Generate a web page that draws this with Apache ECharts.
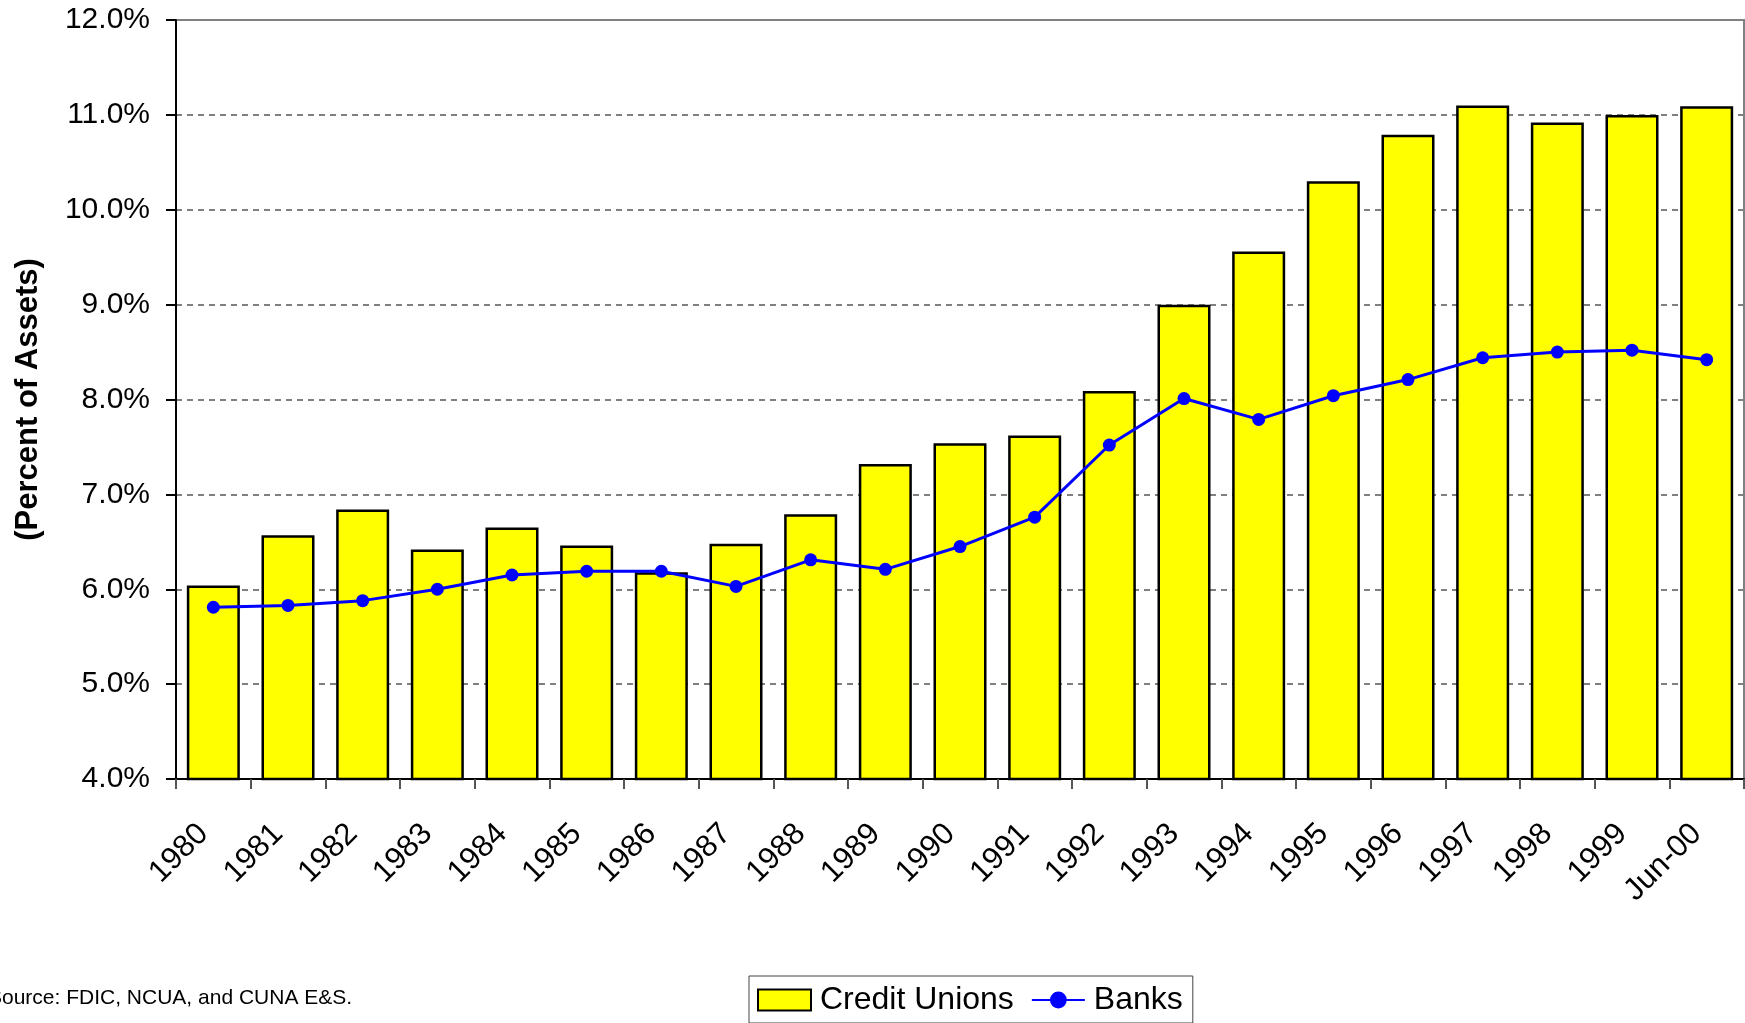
<!DOCTYPE html>
<html>
<head>
<meta charset="utf-8">
<script src="https://cdn.jsdelivr.net/npm/echarts@6/dist/echarts.min.js"></script>
<style>
  html, body { margin: 0; padding: 0; background: #fff; }
  #chart { width: 1745px; height: 1023px; }
</style>
</head>
<body>
<div id="chart"></div>
<script>
const categories = ['1980','1981','1982','1983','1984','1985','1986','1987','1988','1989','1990',
  '1991','1992','1993','1994','1995','1996','1997','1998','1999','Jun-00']
const creditUnions = [6.04, 6.57, 6.84, 6.42, 6.65, 6.46, 6.18, 6.48, 6.79, 7.32, 7.54,
  7.62, 8.09, 9.00, 9.56, 10.30, 10.79, 11.10, 10.92, 11.00, 11.09]
const banks = [5.81, 5.83, 5.88, 6.00, 6.15, 6.19, 6.19, 6.03, 6.31, 6.21, 6.45,
  6.76, 7.52, 8.01, 7.79, 8.04, 8.21, 8.44, 8.50, 8.52, 8.42]
const yTicks = [4, 5, 6, 7, 8, 9, 10, 11, 12]

const font = 'Arial, "Liberation Sans", sans-serif'
const chart = echarts.init(document.getElementById('chart'), null, { renderer: 'canvas' })

chart.setOption({
  backgroundColor: '#fff',
  animation: false,
  textStyle: { fontFamily: font },
  grid: {
    left: 176, right: 1, top: 20, bottom: 244,
    show: true, borderColor: '#808080', borderWidth: 2, backgroundColor: 'transparent',
  },
  legend: {
    left: 749, top: 976,
    padding: [8, 10, 7, 8],
    itemGap: 17,
    itemWidth: 53, itemHeight: 21,
    borderColor: '#444', borderWidth: 1,
    textStyle: { fontSize: 32, color: '#000', fontFamily: font, padding: [2, 0, 0, 4] },
    data: [{ name: 'Credit Unions', icon: 'rect' }, 'Banks'],
  },
  graphic: [{
    type: 'text', left: -12, top: 988,
    style: { text: 'Source: FDIC, NCUA, and CUNA E&S.', fill: '#000', fontSize: 21,
      fontFamily: '"Liberation Sans Narrow", Arial, sans-serif' },
  }],
  xAxis: {
    type: 'category', data: categories,
    axisLine: { lineStyle: { color: '#000', width: 2 } },
    axisTick: { show: true, length: 10, lineStyle: { color: '#555', width: 2 } },
    axisLabel: { rotate: 45, fontSize: 31, color: '#000', margin: 40, padding: [0, 14, 0, 0] },
    splitLine: { show: false },
  },
  yAxis: {
    type: 'value', min: yTicks[0], max: yTicks[yTicks.length - 1], interval: 1,
    name: '(Percent of Assets)', nameLocation: 'middle', nameRotate: 90, nameGap: 132,
    nameTextStyle: { fontSize: 31, fontWeight: 'bold', color: '#000' },
    axisLine: { show: true, lineStyle: { color: '#000', width: 2 } },
    axisTick: { show: true, length: 10, lineStyle: { color: '#000', width: 2 } },
    axisLabel: { fontSize: 30, color: '#000', margin: 26, formatter: (v) => v.toFixed(1) + '%' },
    splitLine: { lineStyle: { color: '#808080', type: [6, 5], width: 2 } },
  },
  series: [{
    name: 'Credit Unions', type: 'bar', data: creditUnions,
    barWidth: '71%',
    itemStyle: { color: '#ffff00', borderColor: '#000', borderWidth: 2.5 },
  }, {
    name: 'Banks', type: 'line', data: banks,
    symbol: 'circle', symbolSize: 13,
    lineStyle: { color: '#0000ff', width: 3 },
    itemStyle: { color: '#0000ff' },
    z: 3,
  }],
})
</script>
</body>
</html>
